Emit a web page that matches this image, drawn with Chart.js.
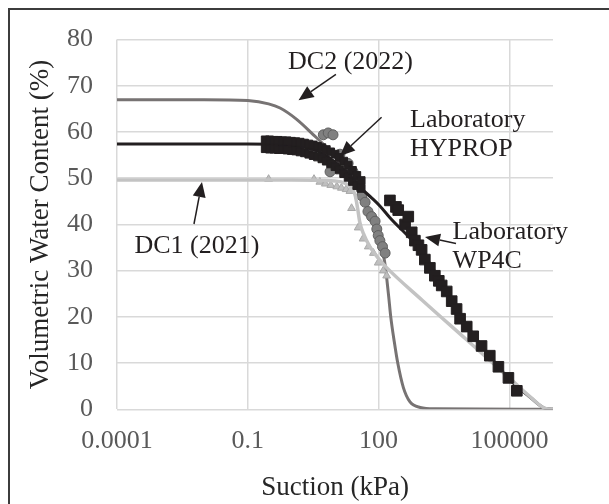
<!DOCTYPE html>
<html><head><meta charset="utf-8">
<script src="https://cdn.jsdelivr.net/npm/chart.js@4.4.1/dist/chart.umd.min.js"></script>
<style>html,body{margin:0;padding:0;background:#fff}canvas{display:block}</style>
</head><body>
<canvas id="c" width="609" height="504"></canvas>
<script>
// ---- axis ticks ----
const xTickValues = [0.0001, 0.1, 100, 100000];
const xTickLabels = ['0.0001', '0.1', '100', '100000'];
const yTickValues = [0, 10, 20, 30, 40, 50, 60, 70, 80];

// ---- DC2 (2022) fitted curve ----
const dc2Suction = [0.0001, 0.01, 0.1, 0.3, 0.55, 1.3, 3.2, 6.5, 12, 20, 40, 70, 100, 125, 145, 155, 170, 190, 230, 275, 370, 525, 900, 2000, 500000, 1000000];
const dc2Water   = [67.0, 67.0, 66.8, 66.1, 65.2, 62.8, 59.4, 56.6, 53.6, 50.6, 46.0, 41.2, 37.5, 34.0, 30.5, 28.0, 24.5, 20.0, 14.5, 10.0, 4.7, 1.6, 0.4, 0.1, 0.0, 0.0];

// ---- Laboratory HYPROP fitted curve (black) ----
const hypFitSuction = [0.0001, 0.1, 0.5, 1, 3, 6, 13, 25, 40, 70, 107, 180, 1000, 10000, 100000, 300000, 700000, 1000000];
const hypFitWater   = [57.4, 57.4, 57.3, 57.1, 56.3, 55.0, 52.5, 50.0, 47.8, 45.7, 44.0, 41.5, 34.0, 18.5, 6.5, 2.6, 0.1, 0.0];

// ---- DC1 (2021) fitted curve (light gray) ----
const dc1Suction = [0.0001, 1, 10, 18, 24, 29, 33, 37, 45, 63, 100, 155, 1000, 10000, 100000, 300000, 700000, 1000000];
const dc1Water   = [49.6, 49.6, 49.4, 48.8, 47.8, 46.3, 43.5, 40.5, 38.0, 35.2, 32.6, 30.6, 23.6, 15.2, 6.8, 2.7, 0.1, 0.0];

// ---- Laboratory HYPROP measurements (two rows of the dense band) ----
const hypSuctionA = [0.251, 0.316, 0.398, 0.501, 0.631, 0.794, 1.0, 1.26, 1.58, 2.0, 2.51, 3.16, 3.98, 5.01, 6.31, 7.94, 10.0, 12.6, 15.8, 20.0, 25.1, 31.6, 39.8];
const hypWaterA   = [58.3, 58.3, 58.2, 58.2, 58.1, 58.1, 58.0, 57.9, 57.8, 57.6, 57.4, 57.2, 56.9, 56.6, 56.2, 55.7, 55.2, 54.5, 53.7, 52.8, 51.7, 50.6, 49.5];
const hypSuctionB = [0.251, 0.316, 0.398, 0.501, 0.631, 0.794, 1.0, 1.26, 1.58, 2.0, 2.51, 3.16, 3.98, 5.01, 6.31, 7.94, 10.0, 12.6, 15.8, 20.0, 25.1, 31.6, 39.8];
const hypWaterB   = [56.4, 56.3, 56.3, 56.2, 56.2, 56.1, 56.0, 55.9, 55.7, 55.5, 55.2, 54.9, 54.6, 54.2, 53.7, 53.1, 52.5, 51.8, 51.0, 50.2, 49.3, 48.4, 47.8];

// ---- Laboratory WP4C measurements ----
const wpSuction = [182, 250, 282, 405, 480, 575, 680, 820, 970, 1150, 1500, 1950, 2400, 2800, 3650, 4750, 6150, 7400, 10500, 14800, 23000, 35500, 56000, 95000, 148000];
const wpWater   = [45.2, 43.8, 43.1, 40.0, 41.7, 38.3, 36.5, 35.5, 34.5, 32.4, 30.6, 28.9, 27.8, 26.8, 25.5, 23.4, 21.7, 19.6, 17.9, 15.8, 13.7, 11.6, 9.2, 6.8, 4.0];

// ---- DC2 measurement points (gray circles) ----
const dc2PtSuction = [5.4, 7, 9, 7.7, 13, 20, 26, 30, 35, 41, 49, 57, 69, 83, 91, 98, 107, 123, 141];
const dc2PtWater   = [59.4, 59.8, 59.4, 51.4, 55.2, 53.2, 51.4, 50.0, 48.5, 46.2, 44.8, 42.8, 41.7, 40.7, 39.0, 37.6, 36.5, 35.2, 33.8];

// ---- DC1 measurement points (light gray triangles) ----
const dc1PtSuction = [0.3, 3.3, 4.5, 6, 8, 11, 14, 18, 22, 24, 34, 44, 58, 76, 98, 128, 153];
const dc1PtWater   = [49.8, 49.8, 49.2, 48.8, 48.5, 48.2, 47.9, 47.6, 47.2, 43.5, 39.3, 36.9, 35.2, 33.8, 31.7, 30.0, 28.9];

const zip = (xs, ys) => xs.map((x, i) => ({x: x, y: ys[i]}));

const FONT = '"Liberation Serif", "Times New Roman", serif';

const notes = [
  {lines: ['DC2 (2022)'], x: 0.836, y: 75.2},
  {lines: ['Laboratory', 'HYPROP'], x: 525, y: 62.6, dy: 29},
  {lines: ['Laboratory', 'WP4C'], x: 4980, y: 38.3, dy: 28.5},
  {lines: ['DC1 (2021)'], x: 0.000252, y: 35.2}
];
const arrows = [
  {from: [10.5, 72.5], to: [1.46, 66.9]},
  {from: [117, 63.2], to: [13.0, 54.8]},
  {from: [5960, 35.9], to: [1160, 37.3]},
  {from: [0.00583, 40.1], to: [0.0089, 49.2]}
];

const framePlugin = {
  id: 'frame',
  beforeDraw(chart) {
    const ctx = chart.ctx;
    ctx.save();
    ctx.fillStyle = '#fff';
    ctx.fillRect(0, 0, chart.width, chart.height);
    ctx.strokeStyle = '#3c3c3c';
    ctx.lineWidth = 2;
    ctx.strokeRect(9, 9, 700, 600);
    ctx.restore();
  }
};

const notePlugin = {
  id: 'notes',
  afterDatasetsDraw(chart) {
    const ctx = chart.ctx;
    const xs = chart.scales.x, ys = chart.scales.y;
    ctx.save();
    ctx.fillStyle = '#231f20';
    ctx.strokeStyle = '#231f20';
    ctx.font = '26px ' + FONT;
    ctx.textBaseline = 'middle';
    ctx.textAlign = 'left';
    notes.forEach(n => {
      const px = xs.getPixelForValue(n.x), py = ys.getPixelForValue(n.y);
      n.lines.forEach((t, i) => ctx.fillText(t, px, py + i * (n.dy || 0)));
    });
    arrows.forEach(a => {
      const x1 = xs.getPixelForValue(a.from[0]), y1 = ys.getPixelForValue(a.from[1]);
      const x2 = xs.getPixelForValue(a.to[0]), y2 = ys.getPixelForValue(a.to[1]);
      const ang = Math.atan2(y2 - y1, x2 - x1);
      const L = 15, W = 6.5;
      const bx = x2 - L * Math.cos(ang), by = y2 - L * Math.sin(ang);
      ctx.lineWidth = 1.5;
      ctx.beginPath(); ctx.moveTo(x1, y1); ctx.lineTo(bx, by); ctx.stroke();
      ctx.beginPath();
      ctx.moveTo(x2, y2);
      ctx.lineTo(bx + W * Math.sin(ang), by - W * Math.cos(ang));
      ctx.lineTo(bx - W * Math.sin(ang), by + W * Math.cos(ang));
      ctx.closePath(); ctx.fill();
    });
    ctx.restore();
  }
};

const lineDs = (data, color, width) => ({
  type: 'line', data: data, borderColor: color, backgroundColor: color,
  borderWidth: width, pointRadius: 0, showLine: true, fill: false,
  cubicInterpolationMode: 'monotone'
});
const ptDs = (data, style, r, fill, border) => ({
  type: 'scatter', data: data, showLine: false, pointStyle: style,
  pointRadius: r, pointHoverRadius: r, backgroundColor: fill, borderColor: border, borderWidth: 1
});

new Chart(document.getElementById('c'), {
  type: 'scatter',
  data: {
    datasets: [
      ptDs(zip(wpSuction, wpWater), 'rect', 7.5, '#231f20', '#231f20'),
      ptDs(zip(hypSuctionA, hypWaterA), 'rect', 5.5, '#231f20', '#231f20'),
      ptDs(zip(hypSuctionB, hypWaterB), 'rect', 5.5, '#231f20', '#231f20'),
      lineDs(zip(dc1Suction, dc1Water), '#c3c3c3', 3.5),
      lineDs(zip(hypFitSuction, hypFitWater), '#231f20', 3),
      ptDs(zip(dc1PtSuction, dc1PtWater), 'triangle', 4.5, '#bfbfbf', '#a9a9a9'),
      ptDs(zip(dc2PtSuction, dc2PtWater), 'circle', 5, '#808080', '#606060'),
      lineDs(zip(dc2Suction, dc2Water), '#777373', 3)
    ]
  },
  options: {
    responsive: false, animation: false, devicePixelRatio: 1,
    layout: {padding: {left: 0, right: 56, top: 24, bottom: 0}},
    plugins: {legend: {display: false}, tooltip: {enabled: false}},
    scales: {
      x: {
        type: 'logarithmic', min: 0.0001, max: 1000000,
        afterBuildTicks: s => { s.ticks = xTickValues.map(v => ({value: v})); },
        afterFit: s => { s.height = 94.7; },
        ticks: {
          autoSkip: false, maxRotation: 0, padding: 16, color: '#595959',
          font: {family: FONT, size: 26},
          callback: (v, i) => xTickLabels[i]
        },
        grid: {color: '#d9d9d9', lineWidth: 1.5, drawTicks: false},
        border: {display: false},
        title: {display: true, text: 'Suction (kPa)', color: '#262626',
                font: {family: FONT, size: 27}, padding: {top: 0, bottom: 0}}
      },
      y: {
        type: 'linear', min: 0, max: 80,
        afterBuildTicks: s => { s.ticks = yTickValues.map(v => ({value: v})); },
        afterFit: s => { s.width = 117; },
        ticks: {padding: 24, color: '#595959', font: {family: FONT, size: 26},
                callback: v => String(v)},
        grid: {color: '#d9d9d9', lineWidth: 1.5, drawTicks: false},
        border: {display: false},
        title: {display: true, text: 'Volumetric Water Content (%)', color: '#262626',
                font: {family: FONT, size: 27}, padding: {top: 25, bottom: 0}}
      }
    }
  },
  plugins: [framePlugin, notePlugin]
});
</script>
</body></html>
